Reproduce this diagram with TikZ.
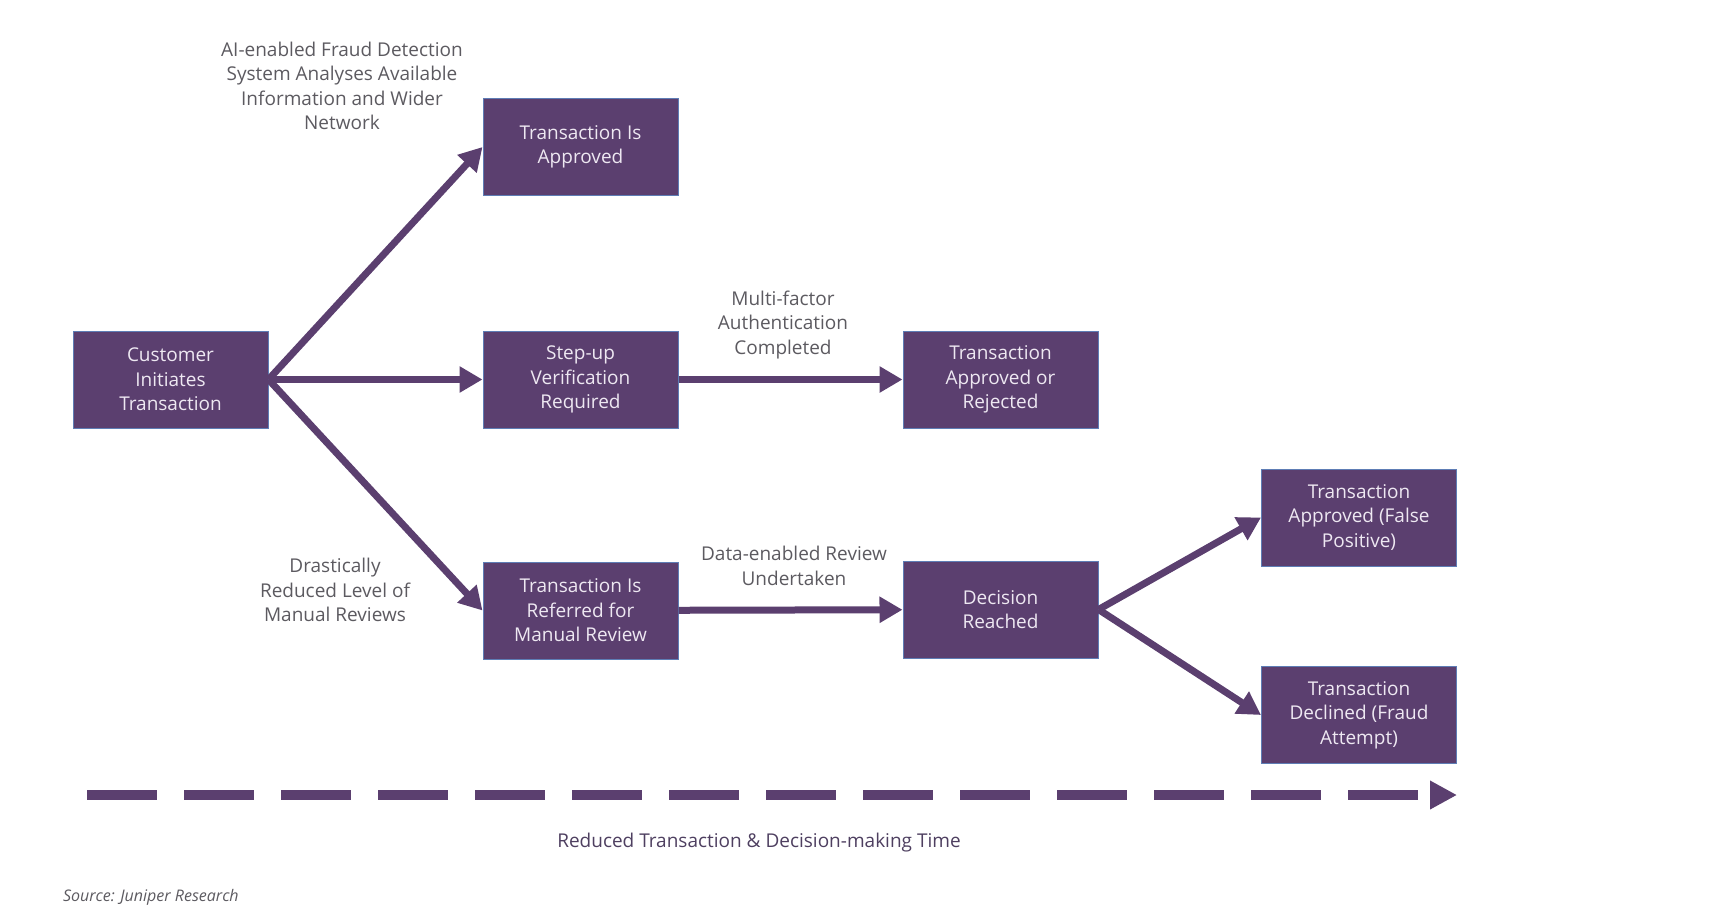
\documentclass[tikz,border=0pt]{standalone}
\usepackage{fontspec}
\setmainfont{Open Sans}
\definecolor{JRPurple}{HTML}{5B3F6F}
\definecolor{JREdge}{HTML}{5E7DB5}
\definecolor{JRText}{HTML}{EEE8F2}
\definecolor{JRGrey}{HTML}{5C5A60}
\definecolor{JRTime}{HTML}{4E3F60}
\usetikzlibrary{arrows.meta}

\begin{document}
\begin{tikzpicture}[x=0.5pt, y=-0.5pt, >={Triangle[length=11.5pt, width=12.5pt]},
  stage/.style={rectangle, fill=JRPurple, draw=JREdge, line width=0.5pt,
    minimum width=97.5pt, minimum height=48.5pt, inner sep=0pt,
    align=center, text=JRText, font=\fontsize{9.5}{12.2}\selectfont},
  note/.style={align=center, text=JRGrey, font=\fontsize{9.5}{12.2}\selectfont},
  flow/.style={->, JRPurple, line width=3.5pt}]
  \useasboundingbox (0,0) rectangle (1734,916);
  % Stages
  \node[stage] (cust)     at (170.5, 379.5) {Customer\\Initiates\\Transaction};
  \node[stage] (approved) at (580.5, 147)   {Transaction Is\\Approved};
  \node[stage] (stepup)   at (580.5, 379.5) {Step-up\\Verification\\Required};
  \node[stage] (referred) at (580.5, 610.5) {Transaction Is\\Referred for\\Manual Review};
  \node[stage] (authres)  at (1000.5, 379.5) {Transaction\\Approved or\\Rejected};
  \node[stage] (decision) at (1000.5, 609.5) {Decision\\Reached};
  \node[stage] (falsepos) at (1359, 517.5)  {Transaction\\Approved (False\\Positive)};
  \node[stage] (fraud)    at (1359, 715)    {Transaction\\Declined (Fraud\\Attempt)};
  % Flow arrows
  \draw[flow] (cust.east) -- (approved.west);
  \draw[flow] (cust.east) -- (stepup.west);
  \draw[flow] (cust.east) -- (referred.west);
  \draw[flow] (stepup) -- (authres);
  \draw[flow] (referred) -- (decision);
  \draw[flow] (decision.east) -- (falsepos.west);
  \draw[flow] (decision.east) -- (fraud.west);
  % Notes on the paths
  \node[note] (ainote)   at (342, 86)  {AI-enabled Fraud Detection\\System Analyses Available\\Information and Wider\\Network};
  \node[note] (mfanote)  at (783, 325) {Multi-factor\\Authentication\\Completed};
  \node[note] (revnote)  at (335, 590) {Drastically\\Reduced Level of\\Manual Reviews};
  \node[note] (datanote) at (794, 566) {Data-enabled Review\\Undertaken};
  % Time axis
  \coordinate (tstart) at (87, 795);
  \coordinate (tend)   at (1457, 795);
  \draw[JRPurple, line width=5pt, dash pattern=on 35pt off 13.5pt,
    -{Triangle[length=13.5pt, width=13.5pt]}] (tstart) -- (tend);
  \node[text=JRTime, font=\fontsize{9.5}{12}\selectfont] (timelbl) at (759, 843)
    {Reduced Transaction \& Decision-making Time};
  \node[anchor=west, text=JRGrey, font=\fontsize{8}{10}\selectfont\itshape] (source)
    at (56, 897) {Source: Juniper Research};
\end{tikzpicture}
\end{document}
